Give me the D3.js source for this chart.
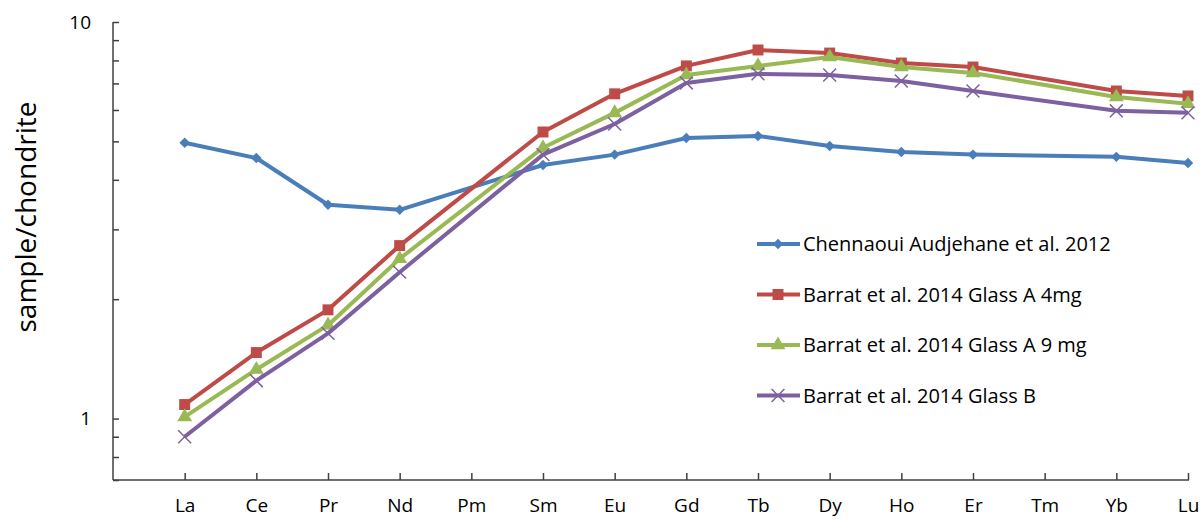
<!DOCTYPE html>
<html>
<head>
<meta charset="utf-8">
<script src="https://cdn.jsdelivr.net/npm/d3@7"></script>
<style>
  body { margin: 0; background: #fff; }
  text { font-family: "Open Sans", "Noto Sans", sans-serif; fill: #000; }
</style>
</head>
<body>
<div id="chart"></div>
<script>
// REE pattern, chondrite normalised (Pm and Tm not measured)
const elements = ["La", "Ce", "Pr", "Nd", "Pm", "Sm", "Eu", "Gd", "Tb", "Dy", "Ho", "Er", "Tm", "Yb", "Lu"];

const chennaoui = [4.96, 4.54, 3.46, 3.36, null, 4.36, 4.63, 5.10, 5.16, 4.87, 4.70, 4.63, null, 4.57, 4.41];
const glassA4 = [1.085, 1.467, 1.88, 2.73, null, 5.28, 6.59, 7.75, 8.50, 8.35, 7.88, 7.70, null, 6.70, 6.51];
const glassA9 = [1.01, 1.33, 1.72, 2.53, null, 4.82, 5.90, 7.35, 7.75, 8.16, 7.70, 7.44, null, 6.47, 6.22];
const glassB = [0.90, 1.246, 1.64, 2.34, null, 4.63, 5.53, 7.02, 7.40, 7.35, 7.10, 6.70, null, 5.97, 5.90];

const seriesNames = [
  "Chennaoui Audjehane et al. 2012",
  "Barrat et al. 2014 Glass A 4mg",
  "Barrat et al. 2014 Glass A 9 mg",
  "Barrat et al. 2014 Glass B"
];
const yTickValues = [1, 10];

const series = [
  {name: seriesNames[0], values: chennaoui, color: "#4a7ebb", marker: "diamond"},
  {name: seriesNames[1], values: glassA4, color: "#be4b48", marker: "square"},
  {name: seriesNames[2], values: glassA9, color: "#98b954", marker: "triangle"},
  {name: seriesNames[3], values: glassB, color: "#7d60a0", marker: "cross"}
];

const W = 1201, H = 519;
const svg = d3.select("#chart").append("svg")
    .attr("width", W)
    .attr("height", H);

// Scales (first, empty slot keeps La one step off the y axis)
const x = d3.scalePoint()
    .domain([""].concat(elements))
    .range([113, 1188]);
const y = d3.scaleLog()
    .domain([0.7, 10])
    .range([480, 22]);

// Y axis with log minor ticks, drawn inward
const minorTicks = [0.7, 0.8, 0.9, 1, 2, 3, 4, 5, 6, 7, 8, 9, 10];
const yAxis = svg.append("g")
    .attr("transform", "translate(113,0)")
    .call(d3.axisLeft(y).tickValues(minorTicks).tickSize(-6).tickPadding(22)
        .tickFormat(d => yTickValues.includes(d) ? d : ""));
yAxis.select(".domain").attr("stroke", "#404040").attr("stroke-width", 1.5).attr("d", "M0,22V480");
yAxis.selectAll(".tick line").attr("stroke", "#404040").attr("stroke-width", 1.5);
yAxis.selectAll(".tick text").style("font-size", "19px");

// X axis
const xAxis = svg.append("g")
    .attr("transform", "translate(0,480)")
    .call(d3.axisBottom(x).tickValues(elements).tickSize(-7).tickPadding(19));
xAxis.select(".domain").attr("stroke", "#404040").attr("stroke-width", 1.5).attr("d", "M113,0H1189");
xAxis.selectAll(".tick line").attr("stroke", "#404040").attr("stroke-width", 1.5);
xAxis.selectAll(".tick text").style("font-size", "19px");

// Y axis title
svg.append("text")
    .attr("transform", "rotate(-90)")
    .attr("x", -217)
    .attr("y", 36)
    .attr("text-anchor", "middle")
    .style("font-size", "28px")
    .text("sample/chondrite");

// Marker shapes
function markerPath(type) {
  if (type === "diamond") return d3.symbol().type(d3.symbolDiamond2).size(70)();
  if (type === "square") return d3.symbol().type(d3.symbolSquare).size(120)();
  if (type === "triangle") return d3.symbol().type(d3.symbolTriangle).size(95)();
  return d3.symbol().type(d3.symbolX).size(110)();
}

const line = d3.line()
    .x(d => x(d.el))
    .y(d => y(d.v));

series.forEach(s => {
  const pts = s.values.map((v, i) => ({el: elements[i], v: v}));
  const present = pts.filter(d => d.v != null);

  // Connect across missing Pm and Tm
  svg.append("path")
      .datum(present)
      .attr("fill", "none")
      .attr("stroke", s.color)
      .attr("stroke-width", 4)
      .attr("stroke-linejoin", "round")
      .attr("d", line);

  svg.selectAll(null)
      .data(present)
      .enter()
      .append("path")
      .attr("transform", d => `translate(${x(d.el)},${y(d.v)})`)
      .attr("d", markerPath(s.marker))
      .attr("fill", s.marker === "cross" ? "none" : s.color)
      .attr("stroke", s.color)
      .attr("stroke-width", s.marker === "cross" ? 1.5 : 0);
});

// Legend
const legend = svg.append("g");
series.forEach((s, i) => {
  const ly = 244 + i * 50.5;
  legend.append("line")
      .attr("x1", 757).attr("x2", 800)
      .attr("y1", ly).attr("y2", ly)
      .attr("stroke", s.color)
      .attr("stroke-width", 4);
  legend.append("path")
      .attr("transform", `translate(778,${ly})`)
      .attr("d", markerPath(s.marker))
      .attr("fill", s.marker === "cross" ? "none" : s.color)
      .attr("stroke", s.color)
      .attr("stroke-width", s.marker === "cross" ? 1.5 : 0);
  legend.append("text")
      .attr("x", 803)
      .attr("y", ly)
      .attr("dy", "0.35em")
      .style("font-size", "20px")
      .text(s.name);
});
</script>
</body>
</html>
